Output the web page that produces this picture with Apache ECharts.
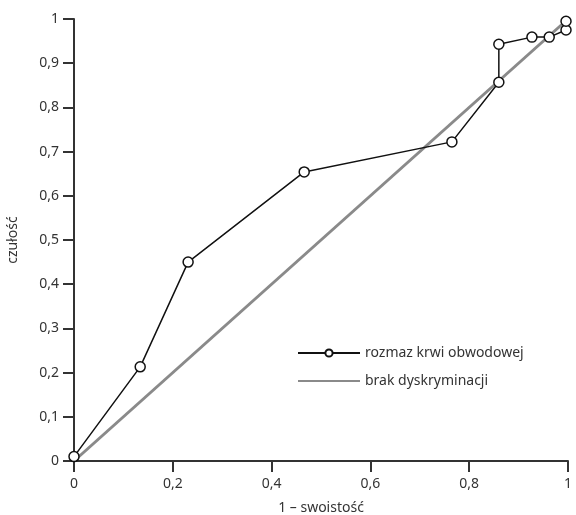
<!DOCTYPE html>
<html style="height: 100%">
<head>
  <meta charset="utf-8">
</head>
<body style="height: 100%; margin: 0">
  <div id="container" style="width: 576px; height: 515px"></div>
  <script type="text/javascript" src="https://cdn.jsdelivr.net/npm/echarts@6/dist/echarts.min.js"></script>
  <script type="text/javascript">
var fprX = [0, 0.134, 0.231, 0.466, 0.765, 0.86, 0.86, 0.927, 0.962, 0.996, 0.996];
var sensY = [0.01, 0.213, 0.45, 0.654, 0.722, 0.857, 0.943, 0.959, 0.959, 0.975, 0.995];
var refX = [0, 1];
var refY = [0, 1];
var seriesNames = ['rozmaz krwi obwodowej', 'brak dyskryminacji'];

var dom = document.getElementById('container');
var myChart = echarts.init(dom, null, { renderer: 'canvas' });

function comma(v) {
  return String(Math.round(v * 10) / 10).replace('.', ',');
}

var font = '"Noto Sans", sans-serif';
var axisCommon = {
  type: 'value',
  min: 0,
  max: 1,
  interval: 0.1,
  nameTextStyle: { color: '#333', fontSize: 14, fontFamily: font },
  axisLine: { show: true, lineStyle: { color: '#333', width: 2 } },
  axisTick: { show: true, inside: false, length: 11, lineStyle: { color: '#333', width: 2 } },
  axisLabel: { color: '#333', fontSize: 14, fontFamily: font, formatter: comma, margin: 15 },
  splitLine: { show: false }
};

var option = {
  animation: false,
  grid: { left: 74, right: 8, top: 19, bottom: 54, containLabel: false, outerBoundsMode: 'none' },
  legend: {
    data: [seriesNames[0], seriesNames[1]],
    orient: 'vertical',
    left: 292,
    top: 341,
    itemWidth: 62,
    itemHeight: 9,
    itemGap: 14,
    textStyle: { color: '#333', fontSize: 14, fontFamily: font }
  },
  xAxis: Object.assign({}, axisCommon, {
    interval: 0.2,
    name: '1 – swoistość',
    nameLocation: 'middle',
    nameGap: 40,
    axisLabel: Object.assign({}, axisCommon.axisLabel, { margin: 16 })
  }),
  yAxis: Object.assign({}, axisCommon, {
    name: 'czułość',
    nameLocation: 'middle',
    nameGap: 54
  }),
  series: [
    {
      name: seriesNames[1],
      type: 'line',
      data: refX.map(function (x, i) { return [x, refY[i]]; }),
      symbol: 'none',
      lineStyle: { color: '#8a8a8a', width: 3 },
      itemStyle: { color: '#8a8a8a', opacity: 0 },
      z: 1
    },
    {
      name: seriesNames[0],
      type: 'line',
      data: fprX.map(function (x, i) { return [x, sensY[i]]; }),
      symbol: 'circle',
      symbolSize: 10,
      lineStyle: { color: '#111', width: 1.5 },
      itemStyle: { color: '#fff', borderColor: '#111', borderWidth: 1.5 },
      z: 3
    }
  ]
};

myChart.setOption(option);
window.addEventListener('resize', myChart.resize);
  </script>
</body>
</html>
